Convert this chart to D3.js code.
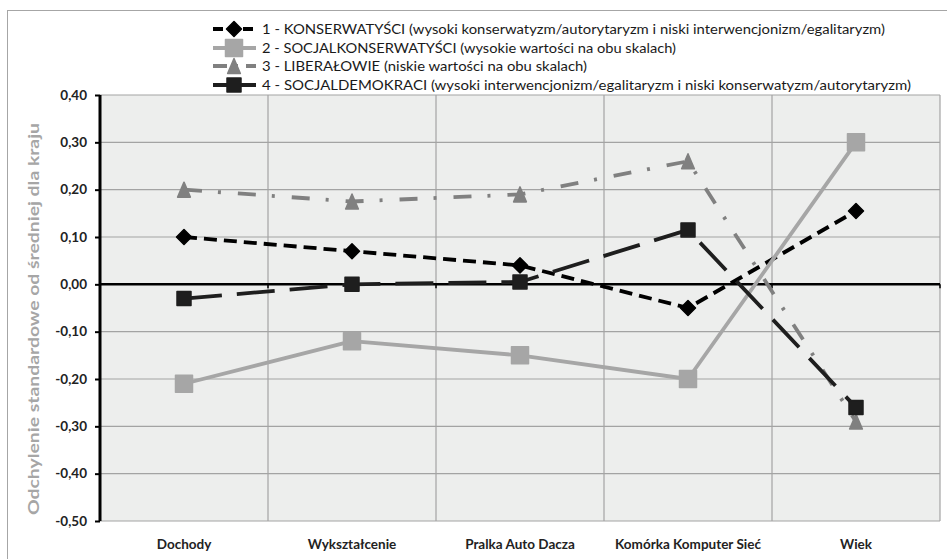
<!DOCTYPE html>
<html lang="pl">
<head>
<meta charset="utf-8">
<script src="https://cdn.jsdelivr.net/npm/d3@7/dist/d3.min.js"></script>
<style>
  html, body { margin: 0; padding: 0; background: #fff; }
  svg { display: block; font-family: Lato, "Open Sans", sans-serif; }
</style>
</head>
<body>
<svg id="chart" width="947" height="559"></svg>
<script>
// Categories (x axis)
const categories = ["Dochody", "Wykształcenie", "Pralka Auto Dacza", "Komórka Komputer Sieć", "Wiek"];

// Series values: standardised deviation from the national mean
const konserwatysci     = [0.10, 0.07, 0.04, -0.05, 0.155];
const socjalkonserw     = [-0.21, -0.12, -0.15, -0.20, 0.30];
const liberalowie       = [0.20, 0.175, 0.19, 0.26, -0.29];
const socjaldemokraci   = [-0.03, 0.00, 0.005, 0.115, -0.26];

const seriesNames = [
  "1 - KONSERWATYŚCI (wysoki konserwatyzm/autorytaryzm i niski interwencjonizm/egalitaryzm)",
  "2 - SOCJALKONSERWATYŚCI (wysokie wartości na obu skalach)",
  "3 - LIBERAŁOWIE (niskie wartości na obu skalach)",
  "4 - SOCJALDEMOKRACI (wysoki interwencjonizm/egalitaryzm i niski konserwatyzm/autorytaryzm)"
];

// Y tick values
const yTicks = [0.40, 0.30, 0.20, 0.10, 0.00, -0.10, -0.20, -0.30, -0.40, -0.50];
const yTitle = "Odchylenie standardowe od średniej dla kraju";

// Styling per series
const styles = [
  { values: konserwatysci,   color: "#000000", dash: "13,7",        legendDash: "10,5",      symbol: "diamond", size: 15 },
  { values: socjalkonserw,   color: "#a6a6a6", dash: null,          legendDash: null,        symbol: "square",  size: 17 },
  { values: liberalowie,     color: "#808080", dash: "18,16,3,17",  legendDash: "14,8,3,8",  symbol: "triangle",size: 15 },
  { values: socjaldemokraci, color: "#1e1e1e", dash: "38,15",       legendDash: null,        symbol: "square",  size: 14 }
];
const legendWidths = [623, 414, 325, 649];

const svg = d3.select("#chart");
const plot = { left: 100, right: 940, top: 95, bottom: 521 };

// outer frame
svg.append("rect")
  .attr("x", 7.5).attr("y", 10.5)
  .attr("width", 950).attr("height", 560)
  .attr("fill", "#fff").attr("stroke", "#a6a6a6").attr("stroke-width", 1);

const x = d3.scaleBand().domain(categories).range([plot.left, plot.right]);
const y = d3.scaleLinear().domain([-0.5, 0.4]).range([plot.bottom, plot.top]);

// plot background
svg.append("rect")
  .attr("x", plot.left).attr("y", plot.top)
  .attr("width", plot.right - plot.left).attr("height", plot.bottom - plot.top)
  .attr("fill", "#edeeed");

// horizontal grid
svg.append("g").selectAll("line").data(yTicks).join("line")
  .attr("x1", plot.left).attr("x2", plot.right)
  .attr("y1", d => y(d)).attr("y2", d => y(d))
  .attr("stroke", "#a3a3a3").attr("stroke-width", 1.2);

// vertical grid at category boundaries
const bounds = categories.map(c => x(c) + x.bandwidth());
svg.append("g").selectAll("line").data(bounds).join("line")
  .attr("x1", d => d).attr("x2", d => d)
  .attr("y1", plot.top).attr("y2", plot.bottom)
  .attr("stroke", "#a3a3a3").attr("stroke-width", 1.2);

// zero line (category axis)
svg.append("line")
  .attr("x1", plot.left).attr("x2", plot.right)
  .attr("y1", y(0)).attr("y2", y(0))
  .attr("stroke", "#000").attr("stroke-width", 2.5);
svg.append("g").selectAll("line").data(bounds).join("line")
  .attr("x1", d => d).attr("x2", d => d)
  .attr("y1", y(0)).attr("y2", y(0) + 4)
  .attr("stroke", "#000").attr("stroke-width", 1.5);

// y axis
const locale = d3.formatLocale({ decimal: ",", thousands: " ", grouping: [3], currency: ["", " zł"], minus: "-" });
const fmt = locale.format(".2f");
const yAxis = d3.axisLeft(y).tickValues(yTicks).tickFormat(fmt).tickSize(5).tickPadding(8);
const gy = svg.append("g").attr("transform", `translate(${plot.left},0)`).call(yAxis);
gy.select(".domain").attr("stroke", "#000").attr("stroke-width", 3).attr("d", `M0,${plot.top}V${plot.bottom}`);
gy.selectAll(".tick line").attr("stroke", "#000").attr("stroke-width", 2);
gy.selectAll(".tick text")
  .attr("font-family", "Lato, sans-serif").attr("font-weight", "bold")
  .attr("font-size", 13.5).attr("fill", "#222");

// x axis labels
const xAxis = d3.axisBottom(x).tickSize(0).tickPadding(18);
const gx = svg.append("g").attr("transform", `translate(0,${plot.bottom})`).call(xAxis);
gx.select(".domain").remove();
gx.selectAll(".tick text")
  .attr("font-family", "Lato, sans-serif").attr("font-weight", "bold")
  .attr("font-size", 13.5).attr("fill", "#222");

// y axis title
svg.append("text")
  .attr("transform", "translate(39,319) rotate(-90)")
  .attr("text-anchor", "middle")
  .attr("font-family", "Lato, sans-serif").attr("font-weight", "bold")
  .attr("font-size", 16).attr("fill", "#a6a6a6")
  .attr("textLength", 392).attr("lengthAdjust", "spacingAndGlyphs")
  .text(yTitle);

// marker path builder
function markerPath(type, s) {
  const h = s / 2;
  if (type === "diamond") return `M0,${-h}L${h},0L0,${h}L${-h},0Z`;
  if (type === "square") return `M${-h},${-h}H${h}V${h}H${-h}Z`;
  if (type === "triangle") return `M0,${-h}L${h * 0.85},${h}L${-h * 0.85},${h}Z`;
  return "";
}

const line = d3.line().x((d, i) => x(categories[i]) + x.bandwidth() / 2).y(d => y(d));

styles.forEach(st => {
  const g = svg.append("g");
  g.append("path")
    .attr("d", line(st.values))
    .attr("fill", "none")
    .attr("stroke", st.color)
    .attr("stroke-width", 3.8)
    .attr("stroke-dasharray", st.dash)
    .attr("stroke-linejoin", "round");
  g.selectAll("path.m").data(st.values).join("path")
    .attr("class", "m")
    .attr("transform", (d, i) => `translate(${x(categories[i]) + x.bandwidth() / 2},${y(d)})`)
    .attr("d", markerPath(st.symbol, st.size))
    .attr("fill", st.color)
    .attr("stroke", st.color)
    .attr("stroke-width", 1.5)
    .attr("stroke-linejoin", "round");
});

// legend
const rowsY = [29, 48, 66, 85];
styles.forEach((st, i) => {
  const g = svg.append("g").attr("transform", `translate(0,${rowsY[i]})`);
  g.append("line")
    .attr("x1", 213).attr("x2", 256).attr("y1", 0).attr("y2", 0)
    .attr("stroke", st.color).attr("stroke-width", 3.8)
    .attr("stroke-dasharray", st.legendDash);
  g.append("path")
    .attr("transform", "translate(234,0)")
    .attr("d", markerPath(st.symbol, st.size))
    .attr("fill", st.color).attr("stroke", st.color).attr("stroke-width", 1.5)
    .attr("stroke-linejoin", "round");
  g.append("text")
    .attr("x", 262).attr("y", 4.5)
    .attr("font-family", "Lato, sans-serif").attr("font-size", 13.5)
    .attr("fill", "#1a1a1a")
    .attr("textLength", legendWidths[i]).attr("lengthAdjust", "spacingAndGlyphs")
    .text(seriesNames[i]);
});
</script>
</body>
</html>
